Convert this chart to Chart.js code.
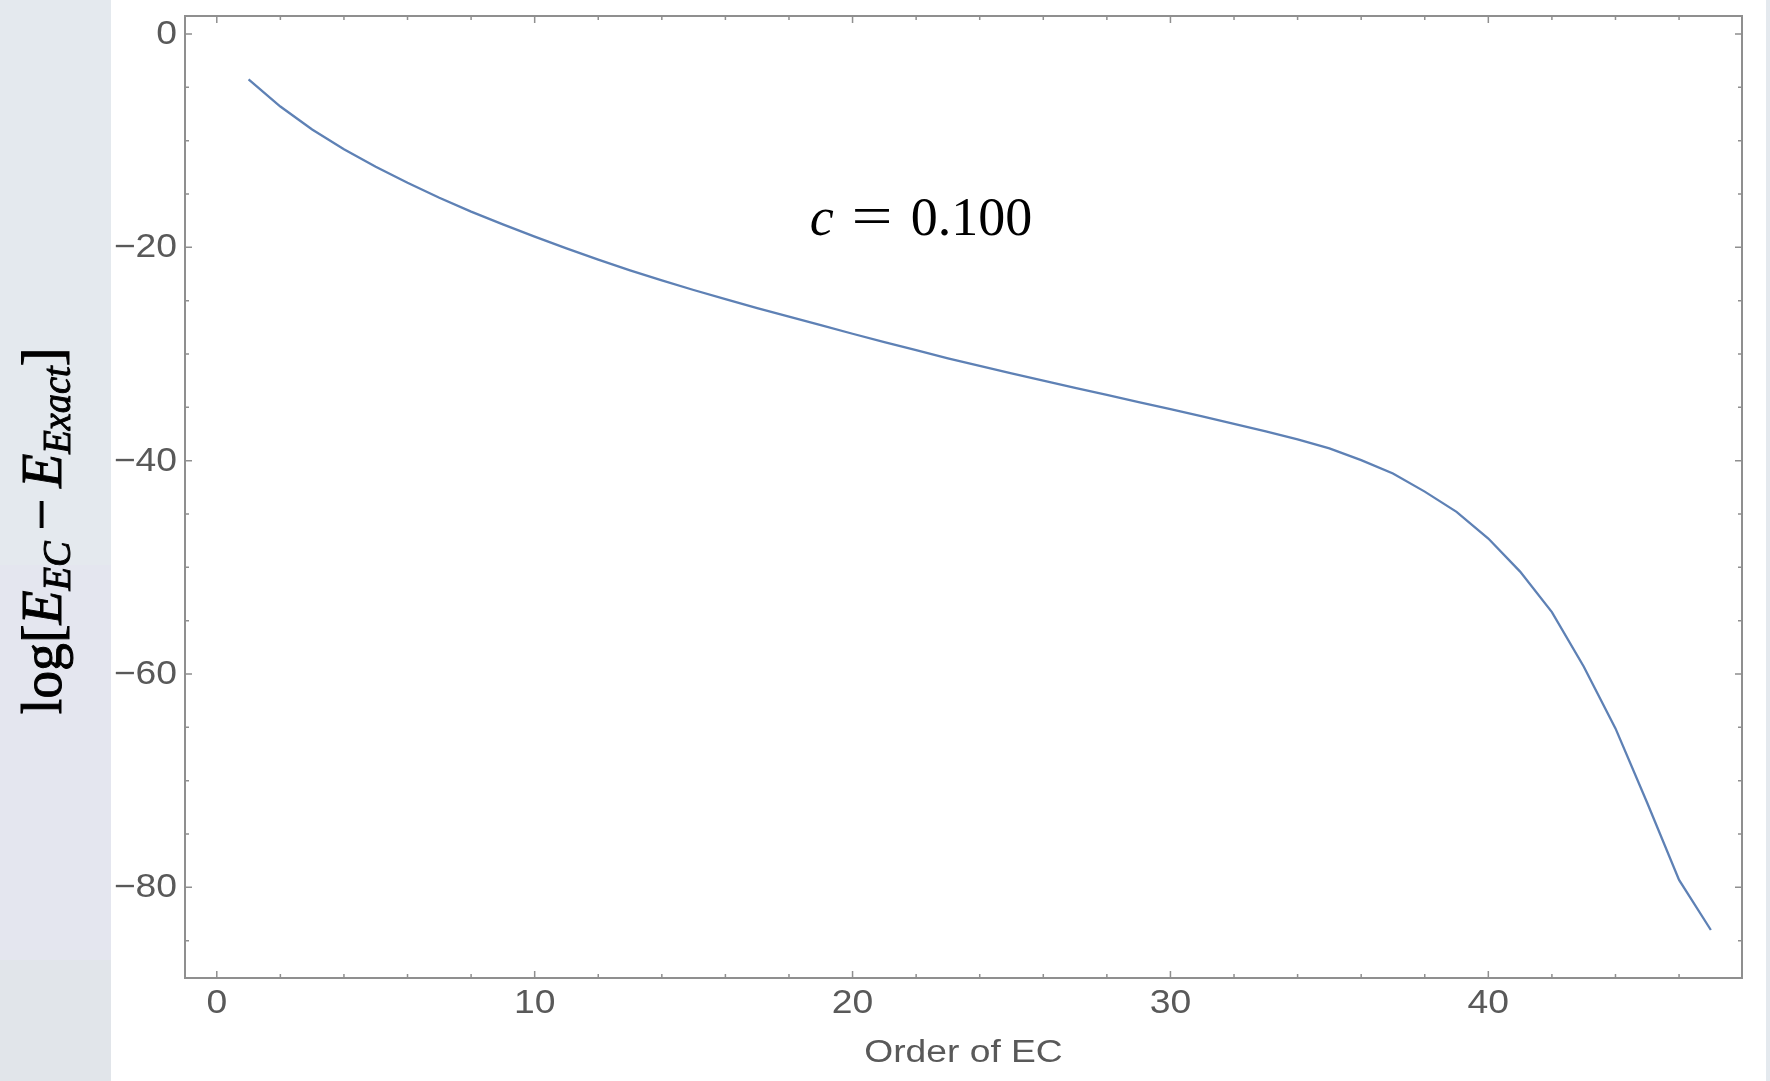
<!DOCTYPE html>
<html>
<head>
<meta charset="utf-8">
<title>Order of EC</title>
<script src="https://cdn.jsdelivr.net/npm/chart.js@4.4.1/dist/chart.umd.min.js"></script>
<style>
  html, body { margin: 0; padding: 0; background: #ffffff; overflow: hidden; }
  canvas { display: block; }
</style>
</head>
<body>
<canvas id="chart" width="1770" height="1081"></canvas>
<script>
// Expansion order and the log of the energy error at that order
const orders = [
  1, 2, 3, 4, 5, 6, 7, 8, 9, 10,
  11, 12, 13, 14, 15, 16, 17, 18, 19, 20,
  21, 22, 23, 24, 25, 26, 27, 28, 29, 30,
  31, 32, 33, 34, 35, 36, 37, 38, 39, 40,
  41, 42, 43, 44, 45, 46, 47
];
const logErrors = [
  -4.25, -6.8, -8.95, -10.8, -12.45, -13.95, -15.35, -16.65, -17.85, -19.0,
  -20.1, -21.15, -22.15, -23.1, -24.0, -24.85, -25.7, -26.5, -27.3, -28.1,
  -28.88, -29.64, -30.4, -31.12, -31.82, -32.5, -33.17, -33.83, -34.5, -35.17,
  -35.85, -36.55, -37.25, -38.0, -38.85, -39.95, -41.2, -42.9, -44.8, -47.3,
  -50.4, -54.2, -59.3, -65.1, -72.1, -79.3, -84.0
];

// Axis ticks
const xMajorTicks = [0, 10, 20, 30, 40];
const yMajorTicks = [0, -20, -40, -60, -80];
const xMinorStep = 2;
const yMinorStep = 5;

// Texts
const xAxisTitle = 'Order of EC';
const noteSymbol = 'c';
const noteValue = '0.100';

// Layout / style settings
const X_RANGE = { min: -1, max: 47.98 };
const Y_RANGE = { min: -88.5, max: 1.69 };
const NOTE_AT = { x: 22.15, y: -18.85 };
const LINE_COLOR = '#5e81b5';
const FRAME_COLOR = '#8f8f8f';
const LABEL_COLOR = '#595959';
const AXIS_FONT = '"Liberation Sans", Arial, sans-serif';
const SERIF = '"Liberation Serif", "Times New Roman", serif';
const TEXT_STRETCH = 1.13;

function fmt(v) {
  return v < 0 ? '\u2212' + Math.abs(v) : String(v);
}

function stretchedText(ctx, text, x, y, align, sx) {
  ctx.save();
  ctx.translate(x, y);
  ctx.scale(sx, 1);
  ctx.textAlign = align;
  ctx.fillText(text, 0, 0);
  ctx.restore();
}

const framePlugin = {
  id: 'frame',
  beforeDraw(chart) {
    const ctx = chart.ctx;
    const W = chart.width, H = chart.height;
    ctx.save();
    ctx.fillStyle = '#ffffff';
    ctx.fillRect(0, 0, W, H);
    // side panels of the page
    ctx.fillStyle = '#e4e9ee';
    ctx.fillRect(0, 0, 111, 565);
    ctx.fillStyle = '#e4e6ef';
    ctx.fillRect(0, 565, 111, 395);
    ctx.fillStyle = '#e1e5ea';
    ctx.fillRect(0, 960, 111, H - 960);
    ctx.fillStyle = '#e4e9ee';
    ctx.fillRect(1766, 0, W - 1766, H);
    ctx.restore();
  },
  beforeDatasetsDraw(chart) {
    const ctx = chart.ctx;
    const a = chart.chartArea;
    const xs = chart.scales.x, ys = chart.scales.y;
    ctx.save();
    ctx.strokeStyle = FRAME_COLOR;
    ctx.lineWidth = 2;
    ctx.strokeRect(a.left, a.top, a.right - a.left, a.bottom - a.top);

    ctx.lineWidth = 1.5;
    ctx.beginPath();
    // x ticks (bottom and top, pointing inward)
    for (let v = Math.ceil(X_RANGE.min / xMinorStep) * xMinorStep; v <= X_RANGE.max; v += xMinorStep) {
      const px = xs.getPixelForValue(v);
      if (px <= a.left + 1 || px >= a.right - 1) continue;
      const len = xMajorTicks.includes(v) ? 7 : 4;
      ctx.moveTo(px, a.bottom); ctx.lineTo(px, a.bottom - len);
      ctx.moveTo(px, a.top); ctx.lineTo(px, a.top + len);
    }
    // y ticks (left and right, pointing inward)
    for (let v = Math.ceil(Y_RANGE.min / yMinorStep) * yMinorStep; v <= Y_RANGE.max; v += yMinorStep) {
      const py = ys.getPixelForValue(v);
      if (py <= a.top + 1 || py >= a.bottom - 1) continue;
      const len = yMajorTicks.includes(v) ? 7 : 4;
      ctx.moveTo(a.left, py); ctx.lineTo(a.left + len, py);
      ctx.moveTo(a.right, py); ctx.lineTo(a.right - len, py);
    }
    ctx.stroke();
    ctx.restore();
  },
  afterDraw(chart) {
    const ctx = chart.ctx;
    const a = chart.chartArea;
    const xs = chart.scales.x, ys = chart.scales.y;
    ctx.save();
    ctx.fillStyle = LABEL_COLOR;
    ctx.font = '33px ' + AXIS_FONT;

    // tick labels
    ctx.textBaseline = 'middle';
    yMajorTicks.forEach(v => {
      stretchedText(ctx, fmt(v), a.left - 8, ys.getPixelForValue(v) + 1, 'right', TEXT_STRETCH);
    });
    ctx.textBaseline = 'alphabetic';
    xMajorTicks.forEach(v => {
      stretchedText(ctx, fmt(v), xs.getPixelForValue(v), a.bottom + 35, 'center', TEXT_STRETCH);
    });

    // x axis title
    ctx.font = '31px ' + AXIS_FONT;
    stretchedText(ctx, xAxisTitle, (a.left + a.right) / 2, a.bottom + 84, 'center', 1.2);

    // y axis title: log[E_EC − E_Exact], drawn rotated
    const F = 58, S = 40, SUB = 9;
    const parts = [
      { t: 'log[', f: `${F}px ${SERIF}`, dy: 0 },
      { t: 'E', f: `italic ${F}px ${SERIF}`, dy: 0 },
      { t: 'EC', f: `italic ${S}px ${SERIF}`, dy: SUB },
      { t: '\u2009\u2212\u2009', f: `${F}px ${SERIF}`, dy: 0 },
      { t: 'E', f: `italic ${F}px ${SERIF}`, dy: 0 },
      { t: 'Exact', f: `italic ${S}px ${SERIF}`, dy: SUB },
      { t: ']', f: `${F}px ${SERIF}`, dy: 0 }
    ];
    let total = 0;
    parts.forEach(p => { ctx.font = p.f; p.w = ctx.measureText(p.t).width; total += p.w; });
    ctx.save();
    ctx.translate(61, 531);
    ctx.rotate(-Math.PI / 2);
    ctx.scale(0.96, 1);
    ctx.fillStyle = '#000000';
    ctx.strokeStyle = '#000000';
    ctx.lineWidth = 1;
    ctx.textAlign = 'left';
    ctx.textBaseline = 'alphabetic';
    let cx = -total / 2;
    parts.forEach(p => {
      ctx.font = p.f;
      ctx.fillText(p.t, cx, p.dy);
      ctx.strokeText(p.t, cx, p.dy);
      cx += p.w;
    });
    ctx.restore();

    // note inside the plot: c = 0.100
    const nx = xs.getPixelForValue(NOTE_AT.x);
    const ny = ys.getPixelForValue(NOTE_AT.y);
    const nParts = [
      { t: noteSymbol, f: `italic 54px ${SERIF}`, sx: 1 },
      { t: '\u2004', f: `54px ${SERIF}`, sx: 1 },
      { t: '=', f: `56px ${SERIF}`, sx: 1.3 },
      { t: '\u2004', f: `54px ${SERIF}`, sx: 1 },
      { t: noteValue, f: `54px ${SERIF}`, sx: 1 }
    ];
    let nTotal = 0;
    nParts.forEach(p => { ctx.font = p.f; p.w = ctx.measureText(p.t).width * p.sx; nTotal += p.w; });
    ctx.fillStyle = '#000000';
    ctx.textBaseline = 'alphabetic';
    let nxp = nx - nTotal / 2;
    nParts.forEach(p => {
      ctx.font = p.f;
      stretchedText(ctx, p.t, nxp, ny, 'left', p.sx);
      nxp += p.w;
    });
    ctx.restore();
  }
};

new Chart(document.getElementById('chart'), {
  type: 'line',
  data: {
    datasets: [{
      data: orders.map((o, i) => ({ x: o, y: logErrors[i] })),
      borderColor: LINE_COLOR,
      borderWidth: 2.3,
      pointRadius: 0,
      tension: 0,
      fill: false
    }]
  },
  options: {
    responsive: false,
    animation: false,
    layout: { padding: { left: 185, right: 28, top: 16, bottom: 103 } },
    plugins: { legend: { display: false }, tooltip: { enabled: false }, title: { display: false } },
    scales: {
      x: { type: 'linear', min: X_RANGE.min, max: X_RANGE.max, display: false },
      y: { type: 'linear', min: Y_RANGE.min, max: Y_RANGE.max, display: false }
    }
  },
  plugins: [framePlugin]
});
</script>
</body>
</html>
